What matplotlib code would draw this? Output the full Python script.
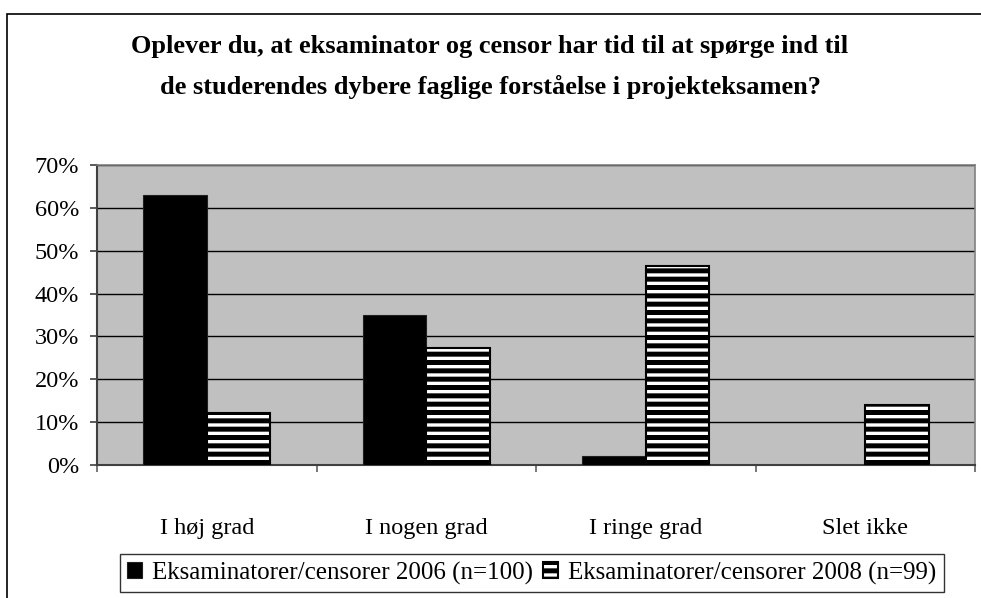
import matplotlib
matplotlib.use("Agg")
import matplotlib.pyplot as plt
import matplotlib.patches as mpatches
import numpy as np

# data
categories = ["I høj grad", "I nogen grad", "I ringe grad", "Slet ikke"]
share_2006 = [0.63, 0.35, 0.02, 0.0]
share_2008 = [0.121, 0.273, 0.465, 0.141]
series_labels = ["Eksaminatorer/censorer 2006 (n=100)",
                 "Eksaminatorer/censorer 2008 (n=99)"]
y_ticks = [0.0, 0.1, 0.2, 0.3, 0.4, 0.5, 0.6, 0.7]
y_tick_labels = ["0%", "10%", "20%", "30%", "40%", "50%", "60%", "70%"]
title = ("Oplever du, at eksaminator og censor har tid til at spørge ind til\n"
         "de studerendes dybere faglige forståelse i projekteksamen?")

plt.rcParams['font.family'] = ['Liberation Serif', 'DejaVu Serif']
plt.rcParams['hatch.linewidth'] = 3.6
plt.rcParams['hatch.color'] = 'black'

W, H = 981, 598
fig = plt.figure(figsize=(W / 100, H / 100), dpi=100)

# outer chart border (right and bottom sides fall outside the image)
fig.patches.append(mpatches.Rectangle((7 / W, -0.05), 1.2, 1 - 14 / H + 0.05,
                                      transform=fig.transFigure, fill=False,
                                      edgecolor='black', linewidth=1.2))

ax = fig.add_axes([97 / W, 1 - 465 / H, (975 - 97) / W, (465 - 165) / H])
ax.set_facecolor('#C0C0C0')

x = np.arange(len(categories))
bw = 0.29
ax.bar(x - bw / 2, share_2006, bw, color='black', edgecolor='#202020',
       linewidth=0.8, zorder=3, label=series_labels[0])
ax.bar(x + bw / 2, share_2008, bw, facecolor='white', edgecolor='black',
       hatch='--', linewidth=1.5, zorder=3, label=series_labels[1])

ax.set_xlim(-0.5, len(categories) - 0.5)
ax.set_ylim(0, 0.7)
ax.set_yticks(y_ticks)
ax.set_yticklabels(y_tick_labels, fontsize=17.5)
ax.yaxis.grid(True, color='black', linewidth=1.0, zorder=1)
ax.set_axisbelow(True)

ax.set_xticks(x)
ax.set_xticklabels(categories, fontsize=17.5)
ax.set_xticks(np.arange(len(categories) + 1) - 0.5, minor=True)
ax.tick_params(axis='x', which='major', length=0, pad=38)
ax.tick_params(axis='x', which='minor', length=5, width=1.2, color='#606060')
ax.tick_params(axis='y', length=5, width=1.2, color='#404040', pad=8)

for side in ['left', 'bottom']:
    ax.spines[side].set_color('#404040')
    ax.spines[side].set_linewidth(1.5)
for side in ['top', 'right']:
    ax.spines[side].set_color('#808080')
    ax.spines[side].set_linewidth(1.2)

fig.text(490 / W, 1 - 67 / H, title, ha='center', va='center', fontsize=19,
         fontweight='bold', linespacing=1.85)

leg = fig.legend(loc='center', bbox_to_anchor=(532 / W, 1 - 573 / H), ncol=2,
                 fontsize=18, frameon=True, fancybox=False, edgecolor='black',
                 handlelength=0.6, handleheight=0.6, handletextpad=0.4,
                 columnspacing=0.4, borderpad=0.3)
leg.get_frame().set_linewidth(1.0)

fig.savefig("out.png", dpi=100)
